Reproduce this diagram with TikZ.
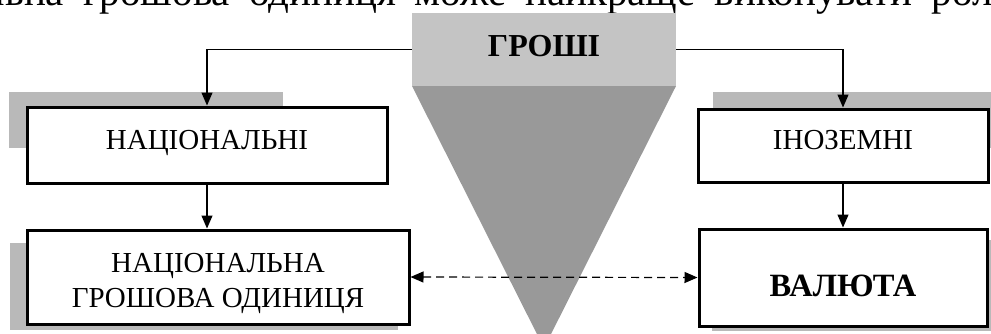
\documentclass[tikz,border=0pt]{standalone}
\usepackage{fontspec}
\setmainfont{Liberation Serif}
\usetikzlibrary{arrows.meta}
\definecolor{shadowgray}{RGB}{185,185,185}
\definecolor{headgray}{RGB}{196,196,196}
\definecolor{funnelgray}{RGB}{153,153,153}
\begin{document}
\begin{tikzpicture}[x=1pt,y=-1pt,
  box/.style={draw=black, line width=3pt, fill=white, inner sep=0pt, font=\fontsize{29}{35}\selectfont, align=center},
  conn/.style={line width=1.2pt, -{Triangle[length=13pt,width=11pt]}},
  dashconn/.style={line width=1.2pt, dash pattern=on 8pt off 5pt, {Triangle[length=13pt,width=11pt]}-{Triangle[length=13pt,width=11pt]}}
]
\useasboundingbox (0,0) rectangle (991,333);
\clip (0,0) rectangle (991,333);
% cut-off body text line
\node[anchor=base west, font=\fontsize{41}{48}\selectfont, inner sep=0pt] (bodytext) at (83,5.5) {\spaceskip=19pt\relax\llap{Національна }грошова одиниця може найкраще виконувати ролі};
% shadows
\fill[shadowgray] (9,92) rectangle (283,148);
\fill[shadowgray] (713,92) rectangle (1000,148);
\fill[shadowgray] (10,243) rectangle (398,330);
\fill[shadowgray] (712,240) rectangle (1000,331);
% funnel
\fill[funnelgray] (412,86) -- (676,86) -- (544,348) -- cycle;
\node[fill=headgray, minimum width=264pt, minimum height=73pt, inner sep=0pt] (money) at (544,49.5) {};
\node[anchor=base, font=\fontsize{32}{38}\selectfont\bfseries, inner sep=0pt] (moneytext) at (544,56) {ГРОШІ};
% boxes
\node[box, minimum width=360pt, text height=42pt, text depth=34pt] (nat) at (207,145) {НАЦІОНАЛЬНІ};
\node[box, minimum width=290pt, text height=40pt, text depth=33pt] (foreign) at (843,145.5) {ІНОЗЕМНІ};
\node[box, minimum width=382pt, text height=77pt, text depth=17pt] (natcur) at (218,277) {НАЦІОНАЛЬНА\\ГРОШОВА ОДИНИЦЯ};
\node[box, minimum width=288pt, text height=67pt, text depth=30pt, font=\fontsize{32.5}{38}\selectfont\bfseries] (valuta) at (843,277.5) {ВАЛЮТА};
% connectors
\draw[conn] (money.west) -| (nat.north);
\draw[conn] (money.east) -| (foreign.north);
\draw[conn] (nat.south) -- (nat.south |- natcur.north);
\draw[conn] (foreign.south) -- (foreign.south |- valuta.north);
\draw[dashconn] (natcur.east) -- (valuta.west);
\end{tikzpicture}
\end{document}
